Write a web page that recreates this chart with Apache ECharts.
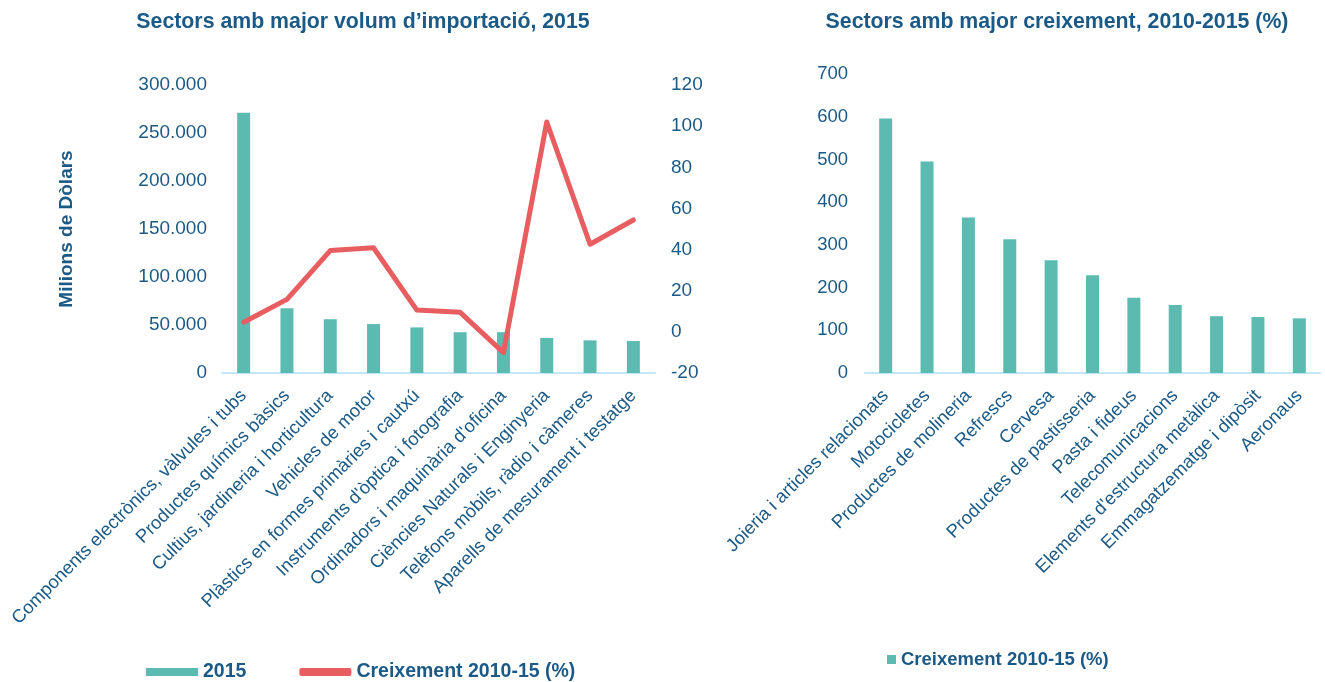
<!DOCTYPE html>
<html>
<head>
<meta charset="utf-8">
<script src="https://cdn.jsdelivr.net/npm/echarts@6/dist/echarts.min.js"></script>
<style>
  html, body { margin: 0; padding: 0; background: #fff; }
  #chart { width: 1325px; height: 682px; }
</style>
</head>
<body>
<div id="chart"></div>
<script>
// sectors amb major volum d'importacio (2015) i creixement
const importSectors = [
  'Components electrònics, vàlvules i tubs',
  'Productes químics bàsics',
  'Cultius, jardineria i horticultura',
  'Vehicles de motor',
  'Plàstics en formes primàries i cautxú',
  "Instruments d'òptica i fotografia",
  "Ordinadors i maquinària d'oficina",
  'Ciències Naturals i Enginyeria',
  'Telèfons mòbils, ràdio i càmeres',
  'Aparells de mesurament i testatge'
]
const import2015 = [271000, 67500, 56000, 51000, 47500, 42500, 42500, 36500, 34000, 33300]
const importGrowth = [4.7, 15.8, 39.5, 40.9, 10.6, 9.5, -10.1, 102, 42.6, 54.4]

// sectors amb major creixement 2010-2015
const growthSectors = [
  'Joieria i articles relacionats',
  'Motocicletes',
  'Productes de molineria',
  'Refrescs',
  'Cervesa',
  'Productes de pastisseria',
  'Pasta i fideus',
  'Telecomunicacions',
  "Elements d'estructura metàlica",
  "Emmagatzematge i dipòsit",
  'Aeronaus'
]
const growthValues = [596, 495, 364, 313, 264, 229, 176, 159, 133, 131, 128]

const textColor = '#1B5A87'
const barColor = '#5CBBB1'
const lineColor = '#E85D60'
const axisColor = '#C5E6F7'
const font = 'Liberation Sans, Arial, sans-serif'

const chart = echarts.init(document.getElementById('chart'))

// format 300000 -> 300.000
function dotThousands(v) {
  return String(v).replace(/\B(?=(\d{3})+(?!\d))/g, '.')
}

const catLabel = {
  rotate: 45,
  color: textColor,
  fontSize: 18.4,
  fontFamily: font,
  interval: 0,
  margin: 20
}

chart.setOption({
  animation: false,
  textStyle: { fontFamily: font },
  title: [
    {
      text: 'Sectors amb major volum d’importació, 2015',
      left: 358, top: 7, textAlign: 'center',
      textStyle: { color: textColor, fontSize: 21.3, fontWeight: 'bold', fontFamily: font }
    },
    {
      text: 'Sectors amb major creixement, 2010-2015 (%)',
      left: 1052, top: 7, textAlign: 'center',
      textStyle: { color: textColor, fontSize: 21.3, fontWeight: 'bold', fontFamily: font }
    }
  ],
  legend: [
    {
      left: 141, top: 657,
      itemWidth: 52, itemHeight: 8, itemGap: 53,
      textStyle: { color: textColor, fontSize: 19.5, fontWeight: 'bold' },
      data: [
        { name: '2015', icon: 'rect' },
        { name: 'Creixement 2010-15 (%)', icon: 'roundRect', itemStyle: { color: lineColor } }
      ]
    },
    {
      left: 882, top: 645,
      itemWidth: 9, itemHeight: 9, itemGap: 4,
      textStyle: { color: textColor, fontSize: 18.5, fontWeight: 'bold' },
      formatter: () => 'Creixement 2010-15 (%)',
      data: [{ name: 'growth', icon: 'rect' }]
    }
  ],
  grid: [
    { left: 222, top: 85, width: 433, height: 288 },
    { left: 865, top: 74, width: 455, height: 299 }
  ],
  xAxis: [
    {
      type: 'category', gridIndex: 0, data: importSectors,
      axisLine: { lineStyle: { color: axisColor, width: 2 } },
      axisTick: { show: false },
      axisLabel: catLabel
    },
    {
      type: 'category', gridIndex: 1, data: growthSectors,
      axisLine: { lineStyle: { color: axisColor, width: 2 } },
      axisTick: { show: false },
      axisLabel: catLabel
    }
  ],
  yAxis: [
    {
      type: 'value', gridIndex: 0, min: 0, max: 300000, interval: 50000,
      name: 'Milions de Dòlars', nameLocation: 'middle', nameRotate: 90, nameGap: 146,
      nameTextStyle: { color: textColor, fontSize: 19, fontWeight: 'bold' },
      axisLine: { show: false }, axisTick: { show: false }, splitLine: { show: false },
      axisLabel: { color: textColor, fontSize: 19, margin: 15, formatter: dotThousands }
    },
    {
      type: 'value', gridIndex: 0, position: 'right', min: -20, max: 120, interval: 20,
      axisLine: { show: false }, axisTick: { show: false }, splitLine: { show: false },
      axisLabel: { color: textColor, fontSize: 19, margin: 16 }
    },
    {
      type: 'value', gridIndex: 1, min: 0, max: 700, interval: 100,
      axisLine: { show: false }, axisTick: { show: false }, splitLine: { show: false },
      axisLabel: { color: textColor, fontSize: 18.5, margin: 17 }
    }
  ],
  series: [
    {
      name: '2015', type: 'bar', xAxisIndex: 0, yAxisIndex: 0,
      data: import2015, barWidth: 13,
      itemStyle: { color: barColor }
    },
    {
      name: 'Creixement 2010-15 (%)', type: 'line', xAxisIndex: 0, yAxisIndex: 1,
      data: importGrowth, symbol: 'none',
      lineStyle: { color: lineColor, width: 5, cap: 'round', join: 'round' },
      itemStyle: { color: lineColor }
    },
    {
      name: 'growth', type: 'bar', xAxisIndex: 1, yAxisIndex: 2,
      data: growthValues, barWidth: 13,
      itemStyle: { color: barColor }
    }
  ]
})
</script>
</body>
</html>
